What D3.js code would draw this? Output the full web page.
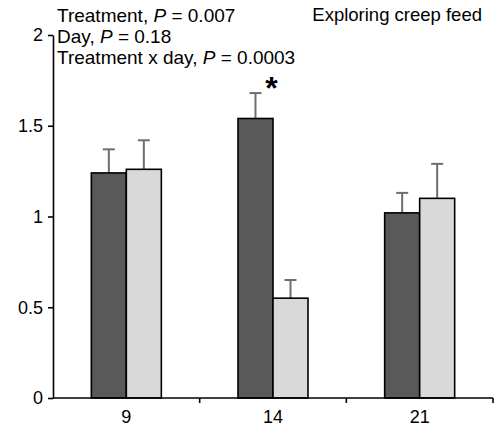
<!DOCTYPE html>
<html><head><meta charset="utf-8">
<script src="https://cdn.jsdelivr.net/npm/d3@7"></script>
<style>body{margin:0;background:#fff}text{font-family:Arial,"Liberation Sans",sans-serif}</style>
</head><body>
<svg id="c" width="497" height="429"></svg>
<script>
const days = ["9", "14", "21"];
const series = ["Treatment 1", "Treatment 2"];
const meanDark = [1.24, 1.54, 1.02];
const meanLight = [1.26, 0.55, 1.10];
const errDark = [0.13, 0.14, 0.11];
const errLight = [0.16, 0.10, 0.19];
const yTicks = [0, 0.5, 1, 1.5, 2];
const stats = [["Treatment, ", "P", " = 0.007"], ["Day, ", "P", " = 0.18"], ["Treatment x day, ", "P", " = 0.0003"]];
const title = "Exploring creep feed";
const sigDay = "14";

const svg = d3.select("#c");
const m = {l: 53, r: 4, t: 35, b: 31};
const W = 497, H = 429;
const x = d3.scaleBand().domain(days).range([m.l, W - m.r]).paddingInner(0).paddingOuter(0);
const y = d3.scaleLinear().domain([0, 2]).range([H - m.b, m.t]);
const barW = 35;
const fills = ["#595959", "#d9d9d9"];
const data = days.map((d, i) => ({day: d, vals: [meanDark[i], meanLight[i]], errs: [errDark[i], errLight[i]]}));

// error bars first (behind)
data.forEach(d => {
  d.vals.forEach((v, j) => {
    const cx = x(d.day) + x.bandwidth() / 2 + (j === 0 ? -barW / 2 : barW / 2);
    const g = svg.append("g").attr("stroke", "#6e6e6e").attr("stroke-width", 2);
    g.append("line").attr("x1", cx).attr("x2", cx).attr("y1", y(v)).attr("y2", y(v + d.errs[j]));
    g.append("line").attr("x1", cx - 6).attr("x2", cx + 6).attr("y1", y(v + d.errs[j])).attr("y2", y(v + d.errs[j]));
  });
});
data.forEach(d => {
  d.vals.forEach((v, j) => {
    const x0 = x(d.day) + x.bandwidth() / 2 + (j === 0 ? -barW : 0);
    svg.append("rect").attr("x", x0).attr("y", y(v)).attr("width", barW).attr("height", y(0) - y(v))
      .attr("fill", fills[j]).attr("stroke", "#000").attr("stroke-width", 1.6);
  });
});

// axes
const ya = svg.append("g").attr("transform", `translate(${m.l},0)`)
  .call(d3.axisLeft(y).tickValues(yTicks).tickFormat(d3.format("")).tickSize(5).tickSizeOuter(0));
ya.select(".domain").attr("stroke-width", 1.6);
ya.selectAll(".tick line").attr("stroke-width", 1.6);
ya.selectAll("text").attr("font-size", 18).attr("fill", "#000").attr("x", -10);

const xa = svg.append("g").attr("transform", `translate(0,${y(0)})`);
xa.append("line").attr("x1", m.l).attr("x2", W - m.r).attr("stroke", "#000").attr("stroke-width", 1.6);
const bounds = days.map(d => x(d)).concat([x(days[days.length - 1]) + x.bandwidth()]).slice(1);
bounds.forEach(b => xa.append("line").attr("x1", b).attr("x2", b).attr("y1", 0).attr("y2", 5).attr("stroke", "#000").attr("stroke-width", 1.6));
days.forEach(d => xa.append("text").attr("x", x(d) + x.bandwidth() / 2).attr("y", 25).attr("text-anchor", "middle").attr("font-size", 18).text(d));

// stats text
stats.forEach((s, i) => {
  const t = svg.append("text").attr("x", 57).attr("y", 22 + i * 21).attr("font-size", 19);
  t.append("tspan").text(s[0]);
  t.append("tspan").attr("font-style", "italic").text(s[1]);
  t.append("tspan").text(s[2]);
});
svg.append("text").attr("x", 482).attr("y", 21).attr("text-anchor", "end").attr("font-size", 18.5).text(title);

// significance asterisk
const si = days.indexOf(sigDay);
svg.append("text").attr("x", x(sigDay) + x.bandwidth() / 2 - barW / 2 + 16).attr("y", y(meanDark[si] + errDark[si]) + 6)
  .attr("text-anchor", "middle").attr("font-size", 32).attr("font-weight", "bold").text("*");
</script>
</body></html>
